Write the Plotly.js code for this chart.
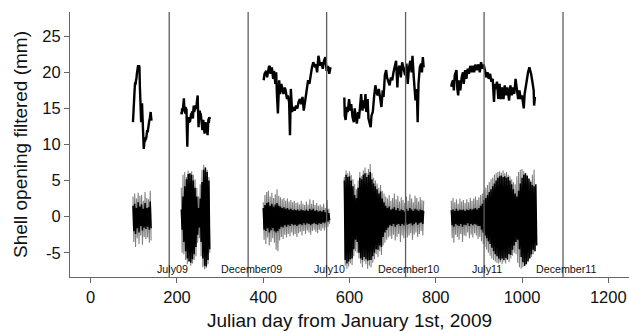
<!DOCTYPE html>
<html><head><meta charset="utf-8">
<script src="https://cdn.plot.ly/plotly-3.0.1.min.js"></script>
<style>html,body{margin:0;padding:0;background:#fff}#chart{width:629px;height:333px}</style>
</head><body><div id="chart"></div>
<script>
// ---- Shell opening (filtered, mm), per deployment segment ----
const open1Days = [98,99,100,101,102,103,104,105,106,107,108,109,110,111,112,113,114,115,116,117,118,119,120,121,122,123,124,125,126,127,128,129,130,131,132,133,134,135,136,137,138,139,140,141];
const open1Vals = [13.1,15.0,15.9,16.5,17.8,18.6,18.3,18.9,19.1,19.8,20.5,20.9,21.0,20.6,21.0,20.7,18.0,15.9,14.5,13.1,14.8,15.7,14.0,12.7,11.0,9.4,10.0,10.8,10.4,11.0,10.7,11.0,11.6,12.0,11.7,12.3,12.5,13.0,13.4,13.6,14.1,14.5,13.8,13.3];
const open2Days = [210,211,212,213,214,215,216,217,218,219,220,221,222,223,224,225,226,227,228,229,230,231,232,233,234,235,236,237,238,239,240,241,242,243,244,245,246,247,248,249,250,251,252,253,254,255,256,257,258,259,260,261,262,263,264,265,266,267,268,269,270,271,272,273,274,275,276];
const open2Vals = [14.5,14.2,15.0,14.6,15.0,15.8,16.4,15.2,14.8,14.3,15.2,14.6,15.0,12.0,9.7,12.5,13.2,13.8,13.0,13.5,13.1,14.0,13.6,14.3,13.8,14.6,13.9,13.6,14.8,15.4,14.5,15.0,14.7,15.3,15.4,14.9,15.8,16.4,16.8,14.5,12.4,13.6,14.2,14.7,14.0,14.3,13.8,13.0,12.4,12.0,12.9,13.4,12.8,12.2,11.5,12.3,13.1,12.8,12.4,12.9,11.8,11.3,12.6,13.6,13.0,13.8,13.5];
const open3Days = [401,403,407,409,413,415,417,420,423,425,428,430,432,434,437,439,442,444,447,450,452,455,457,460,462,464,467,470,473,476,479,482,485,488,491,494,498,501,504,507,510,513,516,519,522,525,528,532,535,538,541,544,547,550,553,556];
const open3Vals = [18.9,19.8,20.2,19.3,20.7,20.9,19.8,20.7,19.1,20.2,18.4,20.0,16.6,14.3,18.9,17.0,18.4,17.7,17.0,17.9,17.5,16.3,16.8,15.9,11.3,17.7,14.5,15.2,14.7,15.4,15.0,15.9,16.3,15.6,16.6,14.7,16.3,17.9,18.9,18.4,19.8,20.7,21.4,20.9,21.1,20.0,22.3,20.9,21.4,20.5,21.6,22.1,20.2,20.9,19.8,20.7];
const open4Days = [588,589,591,594,596,599,602,604,607,610,612,614,617,620,622,625,627,630,633,635,637,639,642,644,647,649,651,654,657,660,662,665,668,670,672,674,677,679,682,685,687,690,693,696,699,702,705,708,711,713,716,719,722,725,729,732,735,738,741,744,746,749,751,753,756,758,760,763,766,768,770,772];
const open4Vals = [16.5,14.0,13.4,15.2,14.5,16.3,14.7,15.6,13.8,13.1,15.0,14.3,12.9,14.5,13.6,15.6,17.0,14.7,16.1,15.0,17.0,14.5,16.3,13.6,12.7,12.4,14.0,14.5,16.6,18.2,17.5,16.8,17.7,17.0,16.3,15.2,17.5,16.6,19.6,20.3,19.3,18.7,18.2,19.3,18.9,20.0,20.9,21.6,17.9,20.5,20.9,19.3,21.4,20.5,19.6,21.2,18.4,20.7,21.6,20.0,22.3,19.3,17.5,16.1,17.7,13.1,18.4,20.7,21.2,20.0,22.1,20.7];
const open5Days = [836,837,840,842,844,848,850,852,854,857,860,863,865,868,871,874,877,880,883,886,889,892,895,899,902,905,908,911,914,917,920,923,926,929,932,935,937,939,942,945,948,951,954,957,960,963,966,970,973,976,979,982,985,988,991,994,997,1000,1004,1006,1008,1011,1014,1017,1021,1024,1027,1028,1030];
const open5Vals = [18.0,18.4,18.9,17.5,19.6,20.3,17.7,16.8,18.9,17.5,19.3,20.0,18.4,20.3,19.1,20.5,19.8,20.9,20.0,20.9,20.0,21.1,20.3,21.1,20.0,21.4,20.5,21.1,20.3,19.3,20.0,19.1,19.8,18.7,19.1,15.9,18.4,17.7,18.7,16.3,18.4,16.3,17.9,16.3,18.2,16.8,17.9,16.1,18.2,16.8,17.9,17.0,19.1,17.5,16.3,17.5,16.3,16.8,15.0,17.0,17.9,19.3,20.0,20.7,19.8,18.7,17.5,15.4,16.6];

// ---- High-frequency component (mm), sampled every 2 days from each segment start ----
const oscStart = [98, 210, 400, 588, 836];
const oscStep = 2;
const oscOuter1 = [2.8,-3.5,3.2,-4.2,2.5,-3.0,3.3,-3.8,2.9,-2.6,3.0,-3.9,2.2,-2.8,3.4,-3.1,2.6,-2.9,2.4,-3.6,3.6,-3.3];
const oscInner1 = [1.5,-2.0,1.8,-2.4,1.2,-1.6,2.0,-2.2,1.4,-1.3,1.7,-1.9,1.1,-1.5,1.9,-1.7,1.2,-1.4,1.3,-1.8,2.1,-1.6];
const oscOuter2 = [4.0,-5.0,5.8,-5.2,6.2,-6.0,5.5,-6.6,6.4,-6.2,6.0,-6.8,6.3,-6.5,5.8,-6.0,5.2,-5.5,4.0,-3.6,2.8,-3.0,4.5,-5.5,6.5,-7.0,7.2,-7.3,6.8,-7.1,6.5,-6.6,5.5,-5.0];
const oscInner2 = [1.0,-1.8,2.8,-3.5,4.2,-4.8,5.2,-5.8,5.9,-6.2,6.0,-6.4,5.8,-5.9,5.0,-5.2,4.0,-4.2,2.8,-2.5,1.2,-1.5,2.5,-3.5,4.8,-5.8,6.5,-6.8,6.8,-6.9,6.2,-6.0,5.0,-4.5];
const oscOuter3 = [2.0,-3.2,3.0,-3.8,3.4,-2.9,3.6,-4.0,2.8,-3.5,3.3,-3.0,2.6,-3.6,3.1,-4.6,3.8,-4.8,2.9,-3.3,2.7,-2.8,2.4,-3.1,2.6,-2.5,2.2,-2.9,2.5,-2.4,2.1,-2.7,2.3,-2.2,2.0,-2.6,2.2,-2.4,1.9,-2.8,2.0,-2.3,1.7,-2.1,2.2,-2.6,1.8,-2.0,1.6,-2.4,2.1,-1.9,1.7,-2.2,2.4,-2.5,1.8,-2.0,2.3,-1.8,1.6,-2.1,1.9,-2.3,1.5,-1.8,1.7,-2.0,1.4,-1.6,1.8,-1.9,1.2,-1.5,2.3,-1.4,1.1,-1.0];
const oscInner3 = [1.2,-1.8,1.6,-2.0,1.9,-1.6,2.0,-2.2,1.5,-1.9,1.8,-1.6,1.4,-2.0,1.7,-2.2,1.9,-2.0,1.5,-1.7,1.4,-1.4,1.2,-1.5,1.3,-1.2,1.1,-1.4,1.2,-1.1,1.0,-1.3,1.1,-1.0,0.9,-1.2,1.0,-1.1,0.9,-1.3,1.0,-1.1,0.8,-1.0,1.0,-1.2,0.9,-0.9,0.8,-1.1,1.0,-0.9,0.8,-1.0,1.1,-1.2,0.9,-1.0,1.1,-0.9,0.8,-1.0,0.9,-1.1,0.7,-0.9,0.8,-1.0,0.7,-0.8,0.9,-0.9,0.6,-0.7,1.0,-0.7,0.5,-0.5];
const oscOuter4 = [5.5,-6.8,6.4,-7.2,6.0,-6.9,6.3,-6.5,5.8,-6.7,5.2,-5.5,4.5,-4.8,3.8,-5.0,5.0,-5.8,6.2,-6.5,5.6,-7.0,6.4,-6.2,6.8,-6.6,6.1,-7.2,6.6,-6.8,7.3,-7.0,6.0,-6.4,5.4,-5.9,5.0,-5.2,4.6,-5.6,4.0,-4.8,4.4,-5.3,3.6,-4.0,3.2,-3.6,2.8,-3.2,2.5,-2.9,3.0,-2.7,2.2,-3.1,2.6,-2.5,3.2,-3.3,2.4,-2.8,2.9,-2.4,2.1,-3.5,2.7,-2.6,2.3,-3.0,1.9,-2.4,2.8,-2.9,2.2,-2.6,3.1,-2.3,2.5,-3.2,2.0,-2.5,2.9,-2.2,2.6,-2.8,2.1,-2.4,2.7,-2.0,2.3,-2.6,2.2];
const oscInner4 = [5.0,-6.0,5.8,-6.5,5.5,-6.2,5.6,-5.9,5.0,-5.8,4.2,-4.5,3.0,-3.2,2.6,-3.5,4.0,-5.0,5.4,-5.8,5.2,-6.0,5.8,-5.6,6.0,-5.9,5.5,-6.1,5.8,-6.0,6.2,-6.0,5.2,-5.5,4.6,-5.0,4.2,-4.5,3.8,-4.6,3.2,-4.0,3.5,-4.2,2.5,-2.8,2.0,-2.2,1.5,-1.8,1.2,-1.5,1.4,-1.2,1.0,-1.3,1.1,-1.0,1.3,-1.4,0.9,-1.1,1.2,-1.0,0.8,-1.3,1.0,-1.0,0.9,-1.2,0.7,-0.9,1.1,-1.1,0.8,-1.0,1.2,-0.9,1.0,-1.2,0.8,-1.0,1.1,-0.8,1.0,-1.1,0.8,-0.9,1.0,-0.8,0.9,-1.0,0.8];
const oscOuter5 = [2.2,-3.0,2.6,-3.6,2.0,-2.5,2.4,-2.8,1.8,-3.2,2.5,-2.4,2.1,-3.5,2.3,-2.6,1.9,-2.7,2.4,-2.2,2.0,-3.0,2.6,-2.5,2.2,-2.9,2.5,-2.3,2.8,-2.6,2.3,-3.1,2.7,-2.8,3.0,-3.4,3.2,-3.8,3.6,-4.2,4.0,-4.6,4.4,-5.0,4.8,-5.4,5.2,-5.8,5.4,-6.0,5.8,-6.2,6.0,-6.4,6.2,-6.5,6.3,-6.3,6.1,-6.6,6.4,-6.2,6.0,-6.5,6.2,-6.0,5.8,-6.3,5.6,-5.8,5.2,-5.4,4.8,-5.0,4.5,-5.2,5.6,-6.4,6.2,-7.0,6.5,-7.2,6.6,-7.0,6.3,-6.8,6.0,-6.5,5.6,-6.0,5.2,-5.4,5.0,-5.6,5.8,-5.2,6.5,-4.8];
const oscInner5 = [0.9,-1.2,1.0,-1.4,0.8,-1.0,1.1,-1.2,0.8,-1.3,1.0,-1.0,0.9,-1.4,1.0,-1.1,0.8,-1.2,1.0,-0.9,0.9,-1.3,1.1,-1.0,1.0,-1.2,1.1,-1.0,1.2,-1.1,1.0,-1.3,1.2,-1.3,1.5,-1.8,1.8,-2.2,2.3,-2.6,2.6,-3.0,3.0,-3.4,3.4,-3.8,3.8,-4.3,4.2,-4.8,4.6,-5.2,5.0,-5.5,5.4,-5.8,5.6,-6.0,5.7,-5.8,5.5,-6.0,5.6,-5.7,5.4,-5.9,5.5,-5.2,5.0,-5.3,4.5,-4.6,3.8,-4.0,3.2,-3.5,2.8,-3.2,3.6,-4.5,4.6,-5.6,5.4,-6.3,5.8,-6.8,6.0,-6.6,5.7,-6.2,5.3,-5.8,4.8,-5.2,4.4,-4.6,4.2,-4.8,4.5,-4.0];

// ---- Month markers ----
const monthDays = [182, 365, 547, 730, 912, 1095];
const monthLabels = ['July09', 'December09', 'July10', 'December10', 'July11', 'December11'];
const xTicks = [0, 200, 400, 600, 800, 1000, 1200];
const yTicks = [-5, 0, 5, 10, 15, 20, 25];

const FONT = 'Liberation Sans, Arial, Helvetica, sans-serif';
const outer = [oscOuter1, oscOuter2, oscOuter3, oscOuter4, oscOuter5];
const inner = [oscInner1, oscInner2, oscInner3, oscInner4, oscInner5];
const openDays = [open1Days, open2Days, open3Days, open4Days, open5Days];
const openVals = [open1Vals, open2Vals, open3Vals, open4Vals, open5Vals];

const traces = [];
outer.forEach((ys, i) => traces.push({type:'scatter', mode:'lines', x0: oscStart[i], dx: oscStep, y: ys,
  line:{color:'#808080', width:1.1}, hoverinfo:'skip', showlegend:false}));
inner.forEach((ys, i) => traces.push({type:'scatter', mode:'lines', x0: oscStart[i], dx: oscStep, y: ys,
  line:{color:'#000000', width:1.5}, hoverinfo:'skip', showlegend:false}));
openDays.forEach((xs, i) => traces.push({type:'scatter', mode:'lines', x: xs, y: openVals[i],
  line:{color:'#000000', width:2.4}, showlegend:false}));

const shapes = monthDays.map(d => ({type:'line', xref:'x', yref:'paper', x0:d, x1:d, y0:0, y1:1,
  line:{color:'#5e5e5e', width:1.3}, layer:'above'}));
const annotations = monthDays.map((d, i) => ({x:d, y:-7.3, xref:'x', yref:'y', text:monthLabels[i],
  showarrow:false, xshift:3, font:{family:FONT, size:10.7, color:'#111'}}));

const axisCommon = {showgrid:false, zeroline:false, showline:true, linecolor:'#666', linewidth:1,
  ticks:'outside', ticklen:5, tickwidth:1, tickcolor:'#666', tickfont:{family:FONT, size:16.5, color:'#111'}};

const layout = {
  width:629, height:333, margin:{l:70, r:0, t:12, b:56},
  paper_bgcolor:'#fff', plot_bgcolor:'#fff', showlegend:false,
  xaxis: Object.assign({}, axisCommon, {range:[-48, 1248], tickvals:xTicks, ticktext:xTicks.map(String),
    title:{text:'Julian day from January 1st, 2009', font:{family:FONT, size:19, color:'#111'}, standoff:8}}),
  yaxis: Object.assign({}, axisCommon, {range:[-8.36, 28.36], tickvals:yTicks, ticktext:yTicks.map(String),
    title:{text:'Shell opening filtered (mm)', font:{family:FONT, size:19, color:'#111'}, standoff:9}}),
  shapes, annotations
};
Plotly.newPlot('chart', traces, layout, {staticPlot:true, displayModeBar:false});
</script></body></html>
